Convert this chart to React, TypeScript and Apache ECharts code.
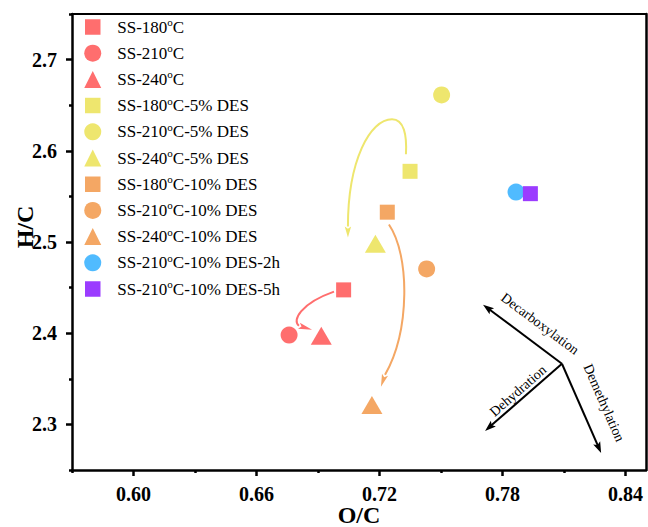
import { useEffect, useRef } from 'react';
import * as echarts from 'echarts';

const FONT = 'Liberation Serif';

// ---- data ----
const seriesNames = [
  'SS-180oC', 'SS-210oC', 'SS-240oC',
  'SS-180oC-5% DES', 'SS-210oC-5% DES', 'SS-240oC-5% DES',
  'SS-180oC-10% DES', 'SS-210oC-10% DES', 'SS-240oC-10% DES',
  'SS-210oC-10% DES-2h', 'SS-210oC-10% DES-5h',
];
const ocValues = [0.7025, 0.6759, 0.6916, 0.7349, 0.7503, 0.718, 0.7238, 0.743, 0.7163, 0.7866, 0.7936];
const hcValues = [2.4475, 2.398, 2.3973, 2.5775, 2.6613, 2.498, 2.5327, 2.4705, 2.3214, 2.5547, 2.553];

const xMajorTicks = [0.6, 0.66, 0.72, 0.78, 0.84];
const xMinorTicks = [0.57, 0.63, 0.69, 0.75, 0.81];
const yMajorTicks = [2.3, 2.4, 2.5, 2.6, 2.7];
const yMinorTicks = [2.25, 2.35, 2.45, 2.55, 2.65, 2.75];

// curved trend arrows (cubic bezier control points, data units)
const trendPaths = [
  [[0.6978, 2.4456], [0.6812, 2.4324], [0.6773, 2.4137], [0.6807, 2.4082]],
  [[0.7329, 2.5962], [0.7334, 2.617], [0.732, 2.6346], [0.7261, 2.6346], [0.7154, 2.6346], [0.7046, 2.5896], [0.7046, 2.517]],
  [[0.7246, 2.5192], [0.7349, 2.4852], [0.7349, 2.4027], [0.7227, 2.3544]],
];
const trendTips = [[0.6871, 2.4038], [0.7046, 2.505], [0.7207, 2.3412]];

// reaction pathway arrows
const pathwayOrigin = [0.809, 2.3665];
const pathwayNames = ['Decarboxylation', 'Dehydration', 'Demethylation'];
const pathwayTips = [[0.7705, 2.4313], [0.7715, 2.2929], [0.8281, 2.2687]];
const pathwayLabelAt = [[0.7983, 2.4104], [0.7876, 2.3368], [0.8295, 2.3236]];

// ---- styles ----
const RED = '#FF6E6E';
const YELLOW = '#EEE66E';
const ORANGE = '#F4A764';
const BLUE = '#50BBFF';
const PURPLE = '#9B3CFF';
const seriesColors = [RED, RED, RED, YELLOW, YELLOW, YELLOW, ORANGE, ORANGE, ORANGE, BLUE, PURPLE];
const seriesSymbols = ['rect', 'circle', 'triangle', 'rect', 'circle', 'triangle', 'rect', 'circle', 'triangle', 'circle', 'rect'];
const trendColors = [RED, YELLOW, ORANGE];

function symbolSize(s: string): any {
  if (s === 'rect') return 15;
  if (s === 'circle') return 17;
  return [21, 18];
}

function arrowHead(base: number[], tip: number[], hw: number, color: string) {
  const dx = tip[0] - base[0];
  const dy = tip[1] - base[1];
  const L = Math.hypot(dx, dy) || 1;
  const nx = -dy / L;
  const ny = dx / L;
  const notch = [base[0] + dx * 0.2, base[1] + dy * 0.2];
  return {
    type: 'polygon',
    shape: {
      points: [tip, [base[0] + nx * hw, base[1] + ny * hw], notch, [base[0] - nx * hw, base[1] - ny * hw]],
    },
    style: { fill: color },
  };
}

export default function App() {
  const ref = useRef<HTMLDivElement>(null);
  useEffect(() => {
    if (!ref.current) return;
    const chart = echarts.init(ref.current, undefined, { renderer: 'svg' });

    const scatterSeries = seriesNames.map((name, i) => ({
      name,
      type: 'scatter',
      symbol: seriesSymbols[i],
      symbolSize: symbolSize(seriesSymbols[i]),
      itemStyle: { color: seriesColors[i], opacity: 1 },
      data: [[ocValues[i], hcValues[i]]],
      z: 3,
    }));

    const trendSeries = {
      type: 'custom',
      silent: true,
      z: 2,
      data: trendPaths.map((p, i) => [p[0][0], p[0][1], i]),
      encode: { x: 0, y: 1 },
      renderItem: (params: any, api: any) => {
        const i = params.dataIndex;
        const color = trendColors[i];
        const pts = trendPaths[i].map((p) => api.coord(p));
        const tip = api.coord(trendTips[i]);
        const children: any[] = [];
        for (let k = 0; k + 3 < pts.length; k += 3) {
          children.push({
            type: 'bezierCurve',
            shape: {
              x1: pts[k][0], y1: pts[k][1],
              cpx1: pts[k + 1][0], cpy1: pts[k + 1][1],
              cpx2: pts[k + 2][0], cpy2: pts[k + 2][1],
              x2: pts[k + 3][0], y2: pts[k + 3][1],
            },
            style: { stroke: color, lineWidth: 2, fill: 'none' },
          });
        }
        children.push(arrowHead(pts[pts.length - 1], tip, 3.2, color));
        return { type: 'group', children };
      },
    };

    const pathwaySeries = {
      type: 'custom',
      silent: true,
      z: 2,
      data: pathwayTips.map((t, i) => [t[0], t[1], i]),
      encode: { x: 0, y: 1 },
      renderItem: (params: any, api: any) => {
        const i = params.dataIndex;
        const o = api.coord(pathwayOrigin);
        const t = api.coord(pathwayTips[i]);
        const dx = t[0] - o[0];
        const dy = t[1] - o[1];
        const L = Math.hypot(dx, dy);
        const headLen = 11;
        const base = [t[0] - (dx / L) * headLen, t[1] - (dy / L) * headLen];
        let ang = Math.atan2(-dy, dx);
        if (ang > Math.PI / 2) ang -= Math.PI;
        if (ang < -Math.PI / 2) ang += Math.PI;
        const lp = api.coord(pathwayLabelAt[i]);
        return {
          type: 'group',
          children: [
            {
              type: 'line',
              shape: { x1: o[0], y1: o[1], x2: base[0] + (dx / L) * 3, y2: base[1] + (dy / L) * 3 },
              style: { stroke: '#000', lineWidth: 2 },
            },
            arrowHead(base, t, 3.8, '#000'),
            {
              type: 'text',
              x: lp[0],
              y: lp[1],
              rotation: ang,
              style: {
                text: pathwayNames[i],
                fill: '#000',
                fontFamily: FONT,
                fontSize: 14,
                align: 'center',
                verticalAlign: 'middle',
                textAlign: 'center',
                textVerticalAlign: 'middle',
              },
            },
          ],
        };
      },
    };

    const baseAxisFont = { fontFamily: FONT, fontWeight: 'bold', fontSize: 20, color: '#000' };

    const option: any = {
      animation: false,
      backgroundColor: '#fff',
      grid: { left: 72, right: 2, top: 14, bottom: 57, containLabel: false, outerBoundsMode: 'none' },
      legend: {
        data: seriesNames.map((n, i) =>
          seriesSymbols[i] === 'rect'
            ? { name: n, itemStyle: { borderColor: '#fff', borderWidth: 1.5 } }
            : { name: n }
        ),
        orient: 'vertical',
        left: 83.5,
        top: 16.5,
        padding: 0,
        itemWidth: 17,
        itemHeight: 17,
        itemGap: 5.2,
        selectedMode: false,
        formatter: (name: string) => name.replace('oC', '{sup|o}C'),
        textStyle: {
          fontFamily: FONT,
          fontSize: 17,
          lineHeight: 17,
          color: '#000',
          padding: [0, 0, 0, 11],
          rich: {
            sup: { fontFamily: FONT, fontSize: 11, lineHeight: 11, color: '#000', padding: [0, 0, 10, 0] },
          },
        },
      },
      xAxis: [
        {
          type: 'value',
          min: 0.57,
          max: 0.85,
          position: 'bottom',
          name: 'O/C',
          nameLocation: 'middle',
          nameGap: 33,
          nameMoveOverlap: false,
          nameTextStyle: { fontFamily: FONT, fontWeight: 'bold', fontSize: 24, color: '#000' },
          axisLine: { show: true, lineStyle: { color: '#000', width: 2.5 } },
          axisTick: { show: true, length: 6, lineStyle: { color: '#000', width: 2.5 }, customValues: xMajorTicks },
          axisLabel: { ...baseAxisFont, margin: 14, customValues: xMajorTicks, formatter: (v: number) => v.toFixed(2) },
          splitLine: { show: false },
        },
        {
          type: 'value',
          min: 0.57,
          max: 0.85,
          position: 'bottom',
          axisLine: { show: false },
          axisTick: { show: true, length: 3, lineStyle: { color: '#000', width: 2.5 }, customValues: xMinorTicks },
          axisLabel: { show: false },
          splitLine: { show: false },
        },
        {
          type: 'value',
          min: 0.57,
          max: 0.85,
          position: 'top',
          axisLine: { show: true, lineStyle: { color: '#000', width: 2 } },
          axisTick: { show: false },
          axisLabel: { show: false },
          splitLine: { show: false },
        },
      ],
      yAxis: [
        {
          type: 'value',
          min: 2.25,
          max: 2.75,
          position: 'left',
          name: 'H/C',
          nameLocation: 'middle',
          nameGap: 35,
          nameMoveOverlap: false,
          nameTextStyle: { fontFamily: FONT, fontWeight: 'bold', fontSize: 24, color: '#000', padding: [0, 0, 0, 30] },
          axisLine: { show: true, lineStyle: { color: '#000', width: 2.5 } },
          axisTick: { show: true, length: 6, lineStyle: { color: '#000', width: 2.5 }, customValues: yMajorTicks },
          axisLabel: { ...baseAxisFont, margin: 15, customValues: yMajorTicks, formatter: (v: number) => v.toFixed(1) },
          splitLine: { show: false },
        },
        {
          type: 'value',
          min: 2.25,
          max: 2.75,
          position: 'left',
          axisLine: { show: false },
          axisTick: { show: true, length: 3, lineStyle: { color: '#000', width: 2.5 }, customValues: yMinorTicks },
          axisLabel: { show: false },
          splitLine: { show: false },
        },
        {
          type: 'value',
          min: 2.25,
          max: 2.75,
          position: 'right',
          axisLine: { show: true, lineStyle: { color: '#000', width: 2.5 } },
          axisTick: { show: false },
          axisLabel: { show: false },
          splitLine: { show: false },
        },
      ],
      series: [trendSeries, pathwaySeries, ...scatterSeries],
    };

    chart.setOption(option);
    return () => chart.dispose();
  }, []);

  return <div ref={ref} style={{ position: 'fixed', left: 0, top: 0, width: 648, height: 527 }} />;
}
